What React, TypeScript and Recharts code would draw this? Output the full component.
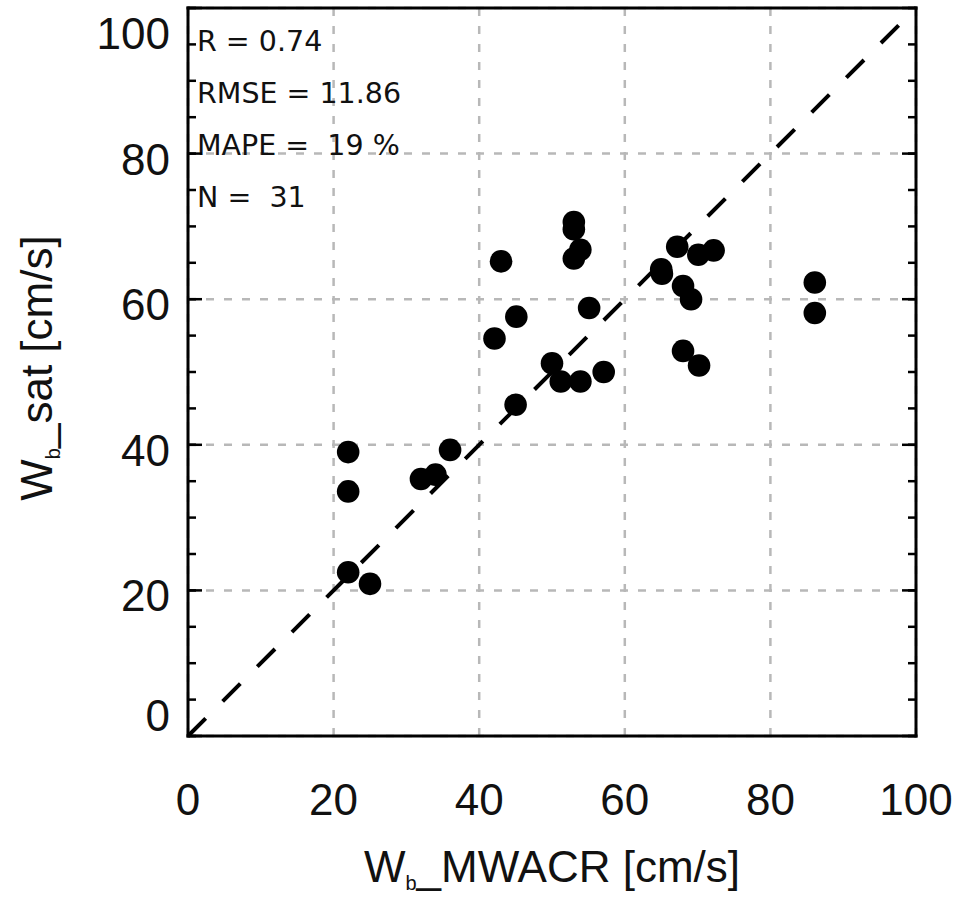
import {
  ScatterChart,
  Scatter,
  XAxis,
  YAxis,
  CartesianGrid,
  ReferenceLine,
} from "recharts";

// values (cm/s)
const wMwacr = [
  22, 22, 22, 25, 32, 34, 36, 43, 42.1, 45.1, 45, 50, 51.2, 53.9, 57.1, 55.1,
  53, 53, 53.9, 53, 67.2, 70.1, 72.2, 65, 65.1, 68, 69.1, 68, 70.2, 86.1, 86.1,
];
const wSat = [
  39, 33.6, 22.5, 20.9, 35.3, 35.9, 39.3, 65.2, 54.6, 57.6, 45.5, 51.2, 48.7,
  48.7, 50, 58.8, 70.6, 69.6, 66.8, 65.6, 67.2, 66.1, 66.7, 64.1, 63.5, 61.8,
  60, 52.9, 50.9, 62.3, 58.1,
];
const majorTicks = [0, 20, 40, 60, 80, 100];
const minorTicks = [
  0, 5, 10, 15, 20, 25, 30, 35, 40, 45, 50, 55, 60, 65, 70, 75, 80, 85, 90, 95,
  100,
];
const oneToOne = [0, 100];
const statLines = ["R = 0.74", "RMSE = 11.86", "MAPE =  19 %", "N =  31"];

const points = wMwacr.map((x, i) => ({ x, y: wSat[i] }));

const FONT = "'Liberation Sans', Arial, Helvetica, sans-serif";
const INK = "#111";
const frame = { stroke: "#000", strokeWidth: 3, strokeLinecap: "square" as const };
const tickMark = { stroke: "#000", strokeWidth: 2.5 };

const NoTick = () => <g />;

const XTick = (p: any) => (
  <text x={p.x} y={p.y + 79} textAnchor="middle" fontSize={44} fontFamily={FONT} fill={INK}>
    {p.payload.value}
  </text>
);

// IDL keeps the end labels inside the axis range
const YTick = (p: any) => {
  const v = p.payload.value;
  const dy = v === 100 ? 41 : v === 0 ? -5 : 21;
  return (
    <text x={p.x} y={p.y + dy} textAnchor="end" fontSize={44} fontFamily={FONT} fill={INK}>
      {v}
    </text>
  );
};

const XTitle = (p: any) => {
  const vb = p.viewBox;
  return (
    <text x={vb.x + vb.width / 2} y={vb.y + 146} textAnchor="middle" fontSize={44} fontFamily={FONT} fill={INK}>
      <tspan>W</tspan>
      <tspan fontSize={20} dy={8}>b</tspan>
      <tspan dy={-8}>_MWACR [cm/s]</tspan>
    </text>
  );
};

const YTitle = (p: any) => {
  const vb = p.viewBox;
  const cx = vb.x + 14;
  const cy = vb.y + vb.height / 2 - 4;
  return (
    <text x={cx} y={cy} transform={`rotate(-90 ${cx} ${cy})`} textAnchor="middle" fontSize={44} fontFamily={FONT} fill={INK}>
      <tspan>W</tspan>
      <tspan fontSize={20} dy={8}>b</tspan>
      <tspan dy={-8}>_sat [cm/s]</tspan>
    </text>
  );
};

const Stats = (p: any) => {
  const vb = p.viewBox;
  return (
    <g>
      {statLines.map((s, i) => (
        <text
          key={s}
          x={vb.x + 9}
          y={vb.y + 43 + i * 52}
          fontSize={28.5}
          fontFamily="'DejaVu Sans', sans-serif"
          fill={INK}
          style={{ whiteSpace: "pre" }}
        >
          {s}
        </text>
      ))}
    </g>
  );
};

const Dot = (p: any) => <circle cx={p.cx} cy={p.cy} r={11.3} fill="#000" />;

const common = {
  type: "number" as const,
  domain: [0, 100],
  allowDataOverflow: true,
  interval: 0 as const,
};

export default function App() {
  return (
    <div style={{ position: "absolute", left: 0, top: 0, width: 957, height: 897, background: "#fff" }}>
      <ScatterChart width={957} height={897} margin={{ top: 8, right: 41, bottom: 0, left: 38 }}>
        {/* inward tick marks, drawn as mirrored axes */}
        <XAxis {...common} xAxisId="bMaj" orientation="bottom" mirror height={1} ticks={majorTicks} tick={NoTick} tickSize={14} tickLine={tickMark} axisLine={false} />
        <XAxis {...common} xAxisId="bMin" orientation="bottom" mirror height={1} ticks={minorTicks} tick={NoTick} tickSize={7} tickLine={tickMark} axisLine={false} />
        <XAxis {...common} xAxisId="tMaj" orientation="top" mirror height={1} ticks={majorTicks} tick={NoTick} tickSize={14} tickLine={tickMark} axisLine={frame} label={Stats} />
        <XAxis {...common} xAxisId="tMin" orientation="top" mirror height={1} ticks={minorTicks} tick={NoTick} tickSize={7} tickLine={tickMark} axisLine={false} />
        <YAxis {...common} yAxisId="lMaj" orientation="left" mirror width={1} ticks={majorTicks} tick={NoTick} tickSize={14} tickLine={tickMark} axisLine={false} />
        <YAxis {...common} yAxisId="lMin" orientation="left" mirror width={1} ticks={minorTicks} tick={NoTick} tickSize={7} tickLine={tickMark} axisLine={false} />
        <YAxis {...common} yAxisId="rMaj" orientation="right" mirror width={1} ticks={majorTicks} tick={NoTick} tickSize={14} tickLine={tickMark} axisLine={frame} />
        <YAxis {...common} yAxisId="rMin" orientation="right" mirror width={1} ticks={minorTicks} tick={NoTick} tickSize={7} tickLine={tickMark} axisLine={false} />

        {/* labelled axes */}
        <XAxis {...common} xAxisId="x" dataKey="x" orientation="bottom" height={161} ticks={majorTicks} tick={XTick} tickSize={0} tickMargin={0} tickLine={false} axisLine={frame} label={XTitle} />
        <YAxis {...common} yAxisId="y" dataKey="y" orientation="left" width={150} ticks={majorTicks} tick={YTick} tickSize={0} tickMargin={18} tickLine={false} axisLine={frame} label={YTitle} />

        <CartesianGrid xAxisId="x" yAxisId="y" stroke="#b8b8b8" strokeWidth={2.5} strokeDasharray="8 10" />
        <ReferenceLine
          xAxisId="x"
          yAxisId="y"
          segment={[
            { x: oneToOne[0], y: oneToOne[0] },
            { x: oneToOne[1], y: oneToOne[1] },
          ]}
          stroke="#000"
          strokeWidth={4}
          strokeDasharray="25 24"
        />
        <Scatter data={points} xAxisId="x" yAxisId="y" shape={Dot} isAnimationActive={false} />
      </ScatterChart>
    </div>
  );
}
